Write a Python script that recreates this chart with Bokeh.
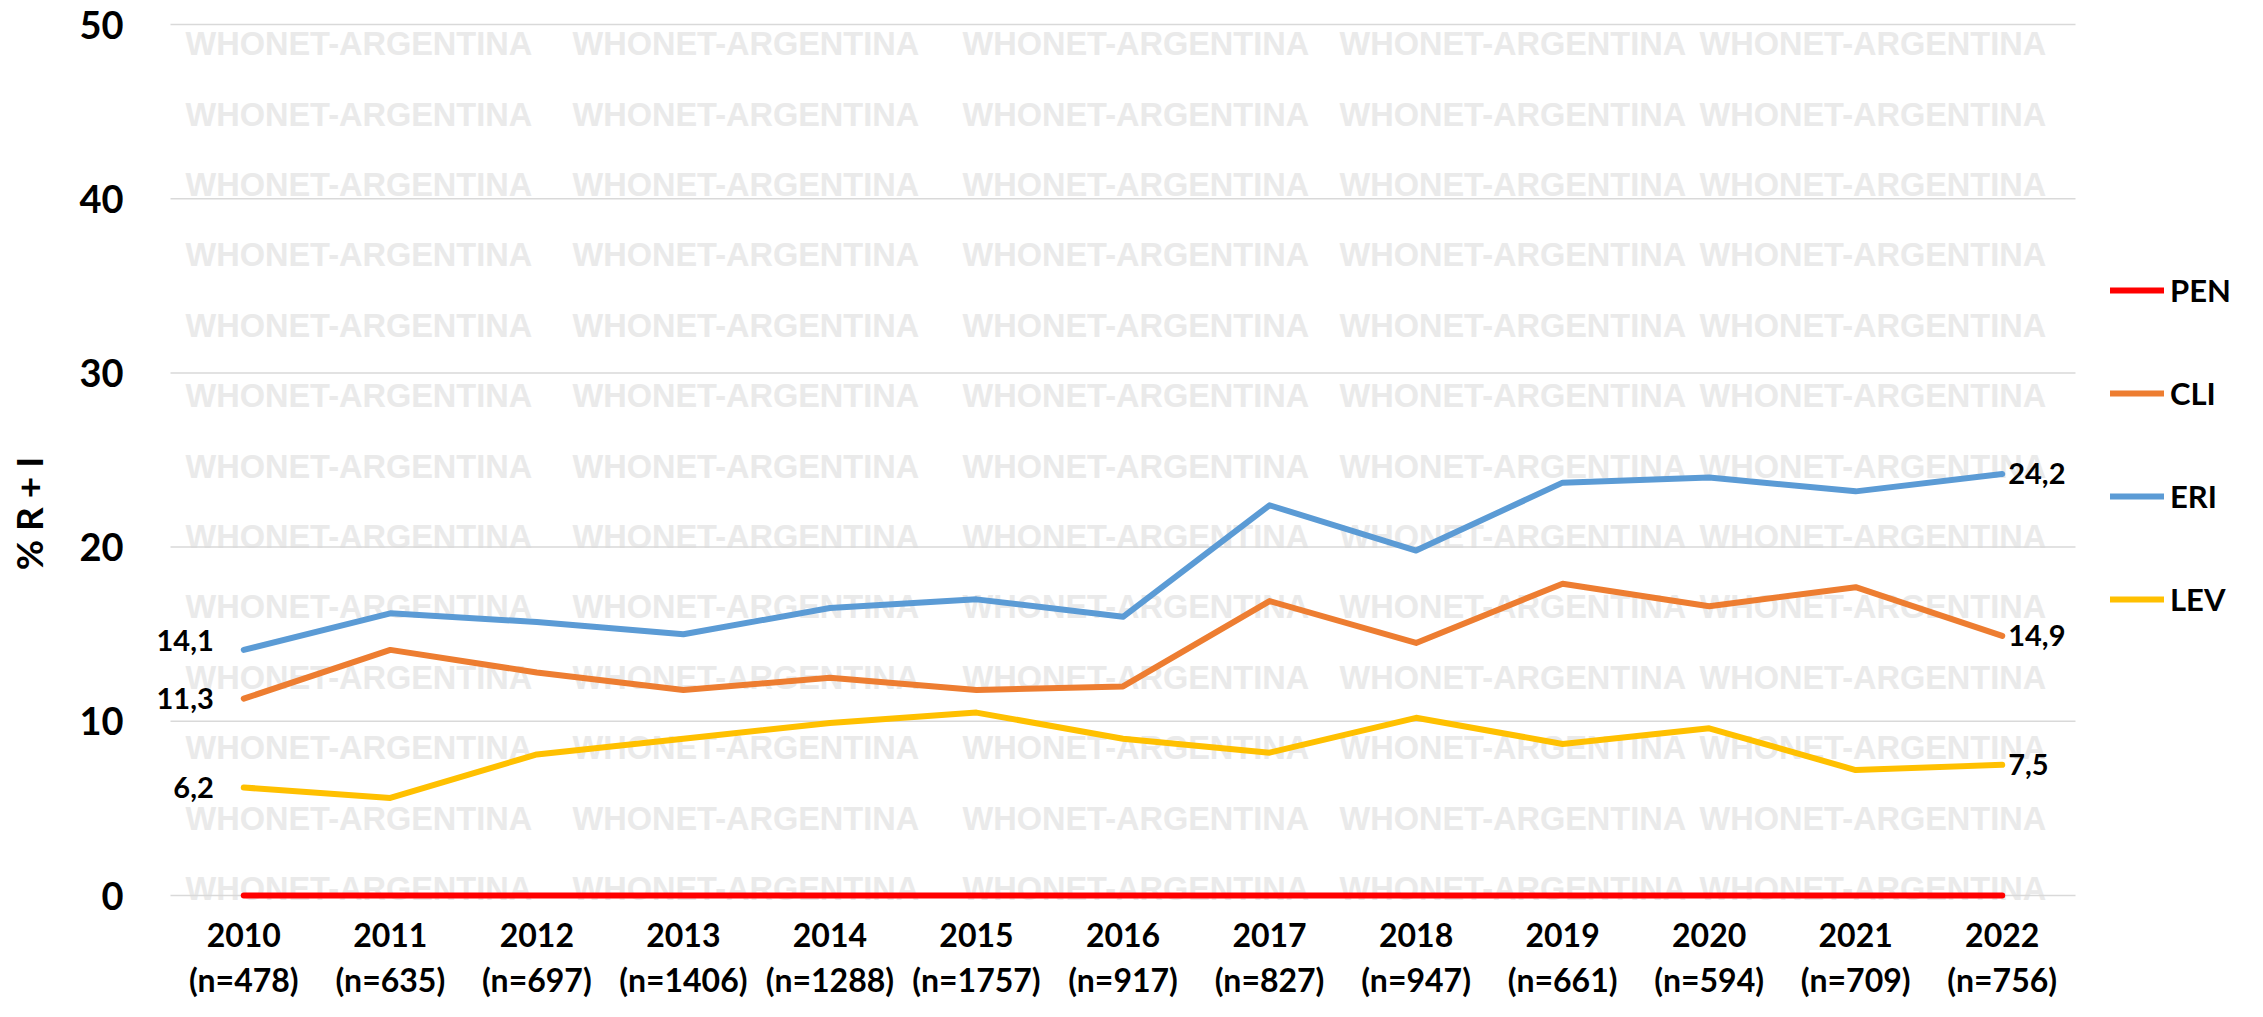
from bokeh.plotting import figure
from bokeh.models import (Range1d, FixedTicker, Legend, LegendItem, LinearAxis,
                          LabelSet, Label, ColumnDataSource)
from bokeh.embed import file_html
from bokeh.resources import INLINE
from bokeh.core.properties import value

# ---------------- data ----------------
years = [2010, 2011, 2012, 2013, 2014, 2015, 2016, 2017, 2018, 2019, 2020, 2021, 2022]
n_counts = [478, 635, 697, 1406, 1288, 1757, 917, 827, 947, 661, 594, 709, 756]
pen = [0, 0, 0, 0, 0, 0, 0, 0, 0, 0, 0, 0, 0]
cli = [11.3, 14.1, 12.8, 11.8, 12.5, 11.8, 12.0, 16.9, 14.5, 17.9, 16.6, 17.7, 14.9]
eri = [14.1, 16.2, 15.7, 15.0, 16.5, 17.0, 16.0, 22.4, 19.8, 23.7, 24.0, 23.2, 24.2]
lev = [6.2, 5.6, 8.1, 9.0, 9.9, 10.5, 9.0, 8.2, 10.2, 8.7, 9.6, 7.2, 7.5]
series_names = ["PEN", "CLI", "ERI", "LEV"]
series_colors = ["#FF0000", "#ED7D31", "#5B9BD5", "#FFC000"]
y_ticks = [0, 10, 20, 30, 40, 50]
year_labels = [str(y) for y in years]
n_labels = [f"(n={n})" for n in n_counts]
y_title = "% R + I"
watermark_text = "WHONET-ARGENTINA"

FONT = "Lato"

# ---------------- layout (canvas pixels; the frame fills the canvas) ----------------
W, H = 2247, 1001
PLOT_L, PLOT_R = 170, 2075          # extent of the category bands / grid lines
Y0_PX, Y50_PX = 895, 24
ppu_y = (Y0_PX - Y50_PX) / 50.0
band = (PLOT_R - PLOT_L) / len(years)
x_first_px = PLOT_L + band / 2
band_lo = years[0] - 0.5
band_hi = years[-1] + 0.5

def px_to_x(px):
    return years[0] + (px - x_first_px) / band

def px_to_y(py):
    return (Y0_PX - py) / ppu_y

p = figure(
    width=W, height=H,
    x_range=Range1d(px_to_x(0), px_to_x(W)), y_range=Range1d(px_to_y(H), px_to_y(0)),
    output_backend="svg", toolbar_location=None,
    min_border=0, min_border_left=0, min_border_right=0,
    min_border_top=0, min_border_bottom=0,
    x_axis_location=None,
)
p.outline_line_color = None
p.background_fill_color = "white"
p.border_fill_color = "white"
p.xgrid.grid_line_color = None
p.ygrid.grid_line_color = None

# watermark grid (decoration)
col_px = [185, 572, 962, 1339, 1699]
row_px = [43.7 + k * 70.4 for k in range(13)]
wx, wy = [], []
for ry in row_px:
    for cx in col_px:
        wx.append(px_to_x(cx))
        wy.append(px_to_y(ry))
p.text(x=wx, y=wy, text=[watermark_text] * len(wx),
       text_font=value("Liberation Sans"), text_font_style="bold",
       text_font_size="32.5px", text_color="#EAEAEA",
       text_align="left", text_baseline="middle", level="image")

# horizontal grid lines across the category bands only
p.segment(x0=[band_lo] * len(y_ticks), x1=[band_hi] * len(y_ticks),
          y0=y_ticks, y1=y_ticks, line_color="#D9D9D9", line_width=1.5,
          level="underlay")

# series lines
renderers = []
for name, vals, col in zip(series_names, [pen, cli, eri, lev], series_colors):
    r = p.line(x=years, y=vals, line_color=col, line_width=6,
               line_cap="round", line_join="round")
    renderers.append(r)

def fmt(v):
    return f"{v:.1f}".replace(".", ",")

left_vals = [eri[0], cli[0], lev[0]]
src_l = ColumnDataSource(dict(x=[years[0]] * 3, y=left_vals,
                              t=[fmt(v) for v in left_vals], yo=[9, 0, 0]))
p.add_layout(LabelSet(x="x", y="y", text="t", source=src_l, x_offset=-30,
                      y_offset="yo", text_align="right", text_baseline="middle",
                      text_font=value(FONT), text_font_style="bold",
                      text_font_size="29px", text_color="black"))
right_vals = [eri[-1], cli[-1], lev[-1]]
src_r = ColumnDataSource(dict(x=[years[-1]] * 3, y=right_vals,
                              t=[fmt(v) for v in right_vals]))
p.add_layout(LabelSet(x="x", y="y", text="t", source=src_r, x_offset=6,
                      text_align="left", text_baseline="middle",
                      text_font=value(FONT), text_font_style="bold",
                      text_font_size="29px", text_color="black"))

# y axis, drawn at the left edge of the category bands
p.yaxis.fixed_location = band_lo
p.yaxis.ticker = FixedTicker(ticks=y_ticks)
p.yaxis.axis_line_color = None
p.yaxis.major_tick_line_color = None
p.yaxis.minor_tick_line_color = None
p.yaxis.major_label_standoff = 41
p.yaxis.major_label_text_font = FONT
p.yaxis.major_label_text_font_style = "bold"
p.yaxis.major_label_text_font_size = "38px"
p.yaxis.major_label_text_color = "black"

# y title
p.add_layout(Label(x=px_to_x(28), y=px_to_y(513), text=y_title,
                   angle=90, angle_units="deg",
                   text_align="center", text_baseline="middle",
                   text_font=FONT, text_font_style="bold",
                   text_font_size="37px", text_color="black"))

# two x axes at y = 0: years, then sample sizes
def make_xaxis(labels, standoff):
    ax = LinearAxis(ticker=FixedTicker(ticks=years), fixed_location=0,
                    major_label_overrides={y: l for y, l in zip(years, labels)})
    ax.axis_line_color = None
    ax.major_tick_line_color = None
    ax.minor_tick_line_color = None
    ax.major_label_standoff = standoff
    ax.major_label_text_font = FONT
    ax.major_label_text_font_style = "bold"
    ax.major_label_text_font_size = "32px"
    ax.major_label_text_color = "black"
    return ax

p.add_layout(make_xaxis(year_labels, 21), "below")
p.add_layout(make_xaxis(n_labels, 58), "below")

# legend at the right
items = [LegendItem(label=n, renderers=[r]) for n, r in zip(series_names, renderers)]
legend = Legend(items=items, location=(2110, 382),
                orientation="vertical",
                glyph_width=54, glyph_height=40, label_height=40,
                label_standoff=6, spacing=63, padding=0, margin=0,
                border_line_color=None, background_fill_alpha=0,
                label_text_font=FONT, label_text_font_style="bold",
                label_text_font_size="31px", label_text_color="black")
p.add_layout(legend)

open("out.html", "w").write(file_html(p, INLINE, title="chart"))
